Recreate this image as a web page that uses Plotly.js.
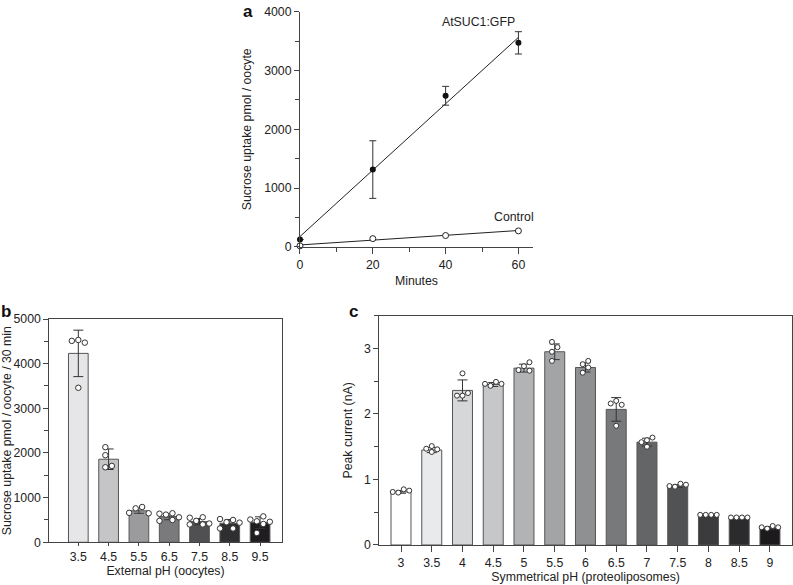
<!DOCTYPE html>
<html>
<head>
<meta charset="utf-8">
<script src="https://cdn.plot.ly/plotly-3.0.1.min.js"></script>
<style>
  body { margin: 0; background: #fff; }
  #fig { width: 793px; height: 585px; }
</style>
</head>
<body>
<div id="fig"></div>
<script>
// panel a: time course
var minutes = [0, 20, 40, 60];
var sucMean = [125, 1315, 2570, 3470];
var sucSd = [0, 490, 160, 190];
var ctrlMean = [17, 140, 193, 272];

// panel b: external pH, oocytes
var phB = ['3.5', '4.5', '5.5', '6.5', '7.5', '8.5', '9.5'];
var uptakeB = [4230, 1860, 705, 575, 463, 425, 440];
var sdB = [520, 230, 55, 70, 70, 85, 130];
var pointsB = [
    [4530, 4470, 4510, 3460],
    [2130, 1950, 1680, 1710],
    [760, 790, 660, 650],
    [620, 650, 640, 560, 500, 480],
    [480, 560, 550, 400, 420, 400],
    [450, 500, 520, 440, 310, 310],
    [470, 580, 510, 460, 210, 410]
];

// panel c: symmetrical pH, proteoliposomes
var phC = ['3', '3.5', '4', '4.5', '5', '5.5', '6', '6.5', '7', '7.5', '8', '8.5', '9'];
var currentC = [0.81, 1.45, 2.36, 2.45, 2.70, 2.95, 2.71, 2.07, 1.57, 0.90, 0.45, 0.41, 0.26];
var sdC = [0.02, 0.04, 0.16, 0.03, 0.06, 0.12, 0.07, 0.18, 0.06, 0.02, 0.005, 0.005, 0.02];
var pointsC = [
    [0.80, 0.85, 0.81, 0.83],
    [1.42, 1.46, 1.47, 1.51],
    [2.62, 2.28, 2.32, 2.28],
    [2.43, 2.49, 2.46, 2.46],
    [2.73, 2.79, 2.66, 2.67],
    [3.10, 3.02, 2.95, 2.81],
    [2.76, 2.81, 2.71, 2.63],
    [2.20, 2.14, 2.16, 1.82],
    [1.60, 1.64, 1.57, 1.50],
    [0.89, 0.935, 0.90, 0.92],
    [0.46, 0.46, 0.46, 0.46],
    [0.42, 0.42, 0.42, 0.42],
    [0.25, 0.29, 0.27, 0.27]
];

// bar fills (style)
var colorsB = ['#e6e6e8', '#c5c5c7', '#9b9b9d', '#7a7a7c', '#505052', '#2f2f31', '#1f1d1f'];
var colorsC = ['#ffffff', '#e9eaec', '#d6d7d9', '#c6c7c9', '#b2b3b5', '#a3a4a6', '#8f9092',
               '#78797b', '#646567', '#515254', '#3b3b3d', '#2b2b2d', '#1c1a1c'];

var W = 793, H = 585;
var FONT = 'Liberation Sans, Arial, sans-serif';
var FS = 12.3;
var INK = '#222';
var AXC = '#444';

var domA = {x: [0.3783, 0.6721], y: [0.578, 0.98]};
var domB = {x: [0.0622, 0.3552], y: [0.073, 0.4547]};
var domC = {x: [0.4783, 0.9987], y: [0.0684, 0.4603]};
var rangeBx = [-0.957, 6.713], rangeBy = [0, 5000];
var rangeCx = [-0.706, 12.716], rangeCy = [0, 3.5];

function linfit(xs, ys) {
    var n = xs.length, mx = 0, my = 0;
    for (var i = 0; i < n; i++) { mx += xs[i] / n; my += ys[i] / n; }
    var sxy = 0, sxx = 0;
    for (var i = 0; i < n; i++) {
        sxy += (xs[i] - mx) * (ys[i] - my);
        sxx += (xs[i] - mx) * (xs[i] - mx);
    }
    var slope = sxy / sxx;
    return {slope: slope, icpt: my - slope * mx};
}

// simple beeswarm so replicate dots don't overlap
function swarm(groups, dom, rx, ry, diam) {
    var pxX = (dom.x[1] - dom.x[0]) * W / (rx[1] - rx[0]);
    var pxY = (dom.y[1] - dom.y[0]) * H / (ry[1] - ry[0]);
    var X = [], Y = [];
    for (var g = 0; g < groups.length; g++) {
        var placed = [];
        for (var k = 0; k < groups[g].length; k++) {
            var py = groups[g][k] * pxY;
            for (var s = 0; s < 20; s++) {
                var off = (s === 0) ? 0 : (s % 2 ? 1 : -1) * Math.ceil(s / 2) * diam;
                var ok = true;
                for (var p = 0; p < placed.length; p++) {
                    var dx = off - placed[p][0], dy = py - placed[p][1];
                    if (Math.sqrt(dx * dx + dy * dy) < diam) { ok = false; break; }
                }
                if (ok) { placed.push([off, py]); break; }
            }
        }
        var lo = Math.min.apply(null, placed.map(function (q) { return q[0]; }));
        var hi = Math.max.apply(null, placed.map(function (q) { return q[0]; }));
        var shift = (lo + hi) / 2;
        for (var k = 0; k < placed.length; k++) {
            X.push(g + (placed[k][0] - shift) / pxX);
            Y.push(groups[g][k]);
        }
    }
    return {x: X, y: Y};
}

function idx(arr) { return arr.map(function (_, i) { return i; }); }

var fitS = linfit(minutes, sucMean);
var fitC = linfit(minutes, ctrlMean);
var xEnds = [minutes[0], minutes[minutes.length - 1]];

var swB = swarm(pointsB, domB, rangeBx, rangeBy, 6.5);
var swC = swarm(pointsC, domC, rangeCx, rangeCy, 5.5);

var traces = [
    {x: xEnds, y: xEnds.map(function (t) { return fitS.icpt + fitS.slope * t; }),
     mode: 'lines', line: {color: INK, width: 1}, xaxis: 'x', yaxis: 'y', hoverinfo: 'skip'},
    {x: xEnds, y: xEnds.map(function (t) { return fitC.icpt + fitC.slope * t; }),
     mode: 'lines', line: {color: INK, width: 1}, xaxis: 'x', yaxis: 'y', hoverinfo: 'skip'},
    {x: minutes, y: sucMean, mode: 'markers', cliponaxis: false,
     marker: {size: 6, color: '#111'},
     error_y: {type: 'data', array: sucSd, color: '#333', thickness: 1, width: 3.5},
     xaxis: 'x', yaxis: 'y'},
    {x: minutes, y: ctrlMean, mode: 'markers', cliponaxis: false,
     marker: {size: 6, color: '#fff', line: {color: INK, width: 1}},
     xaxis: 'x', yaxis: 'y'},

    {type: 'bar', x: idx(phB), y: uptakeB, width: 0.65,
     marker: {color: colorsB, line: {color: '#555', width: 1}},
     error_y: {type: 'data', array: sdB, color: '#333', thickness: 1, width: 5},
     xaxis: 'x2', yaxis: 'y2'},
    {x: swB.x, y: swB.y, mode: 'markers', cliponaxis: false,
     marker: {size: 5.5, color: '#fff', line: {color: '#333', width: 1}},
     xaxis: 'x2', yaxis: 'y2'},

    {type: 'bar', x: idx(phC), y: currentC, width: 0.65,
     marker: {color: colorsC, line: {color: '#555', width: 1}},
     error_y: {type: 'data', array: sdC, color: '#333', thickness: 1, width: 5},
     xaxis: 'x3', yaxis: 'y3'},
    {x: swC.x, y: swC.y, mode: 'markers', cliponaxis: false,
     marker: {size: 5, color: '#fff', line: {color: '#333', width: 1}},
     xaxis: 'x3', yaxis: 'y3'}
];

function ax(extra) {
    var base = {
        showline: true, linecolor: AXC, linewidth: 1,
        ticks: 'outside', ticklen: 5, tickcolor: AXC, tickwidth: 1,
        showgrid: false, zeroline: false, fixedrange: true,
        tickfont: {family: FONT, size: FS, color: INK}
    };
    for (var k in extra) base[k] = extra[k];
    return base;
}
function ttl(text, standoff) {
    return {text: text, standoff: standoff, font: {family: FONT, size: FS, color: INK}};
}
var minor = function (d) { return {dtick: d, ticks: 'outside', ticklen: 4, tickcolor: AXC, showgrid: false}; };

var layout = {
    width: W, height: H,
    margin: {l: 0, r: 0, t: 0, b: 0},
    paper_bgcolor: '#fff', plot_bgcolor: 'rgba(0,0,0,0)',
    showlegend: false,
    font: {family: FONT, color: INK},

    xaxis: ax({domain: domA.x, anchor: 'y', range: [0, 64], tickvals: [0, 20, 40, 60],
               ticklen: 6, minor: minor(10), title: ttl('Minutes', 5)}),
    yaxis: ax({domain: domA.y, anchor: 'x', range: [0, 4000], dtick: 1000,
               minor: minor(500), title: ttl('Sucrose uptake pmol / oocyte', 9)}),

    xaxis2: ax({domain: domB.x, anchor: 'y2', range: rangeBx, tickvals: idx(phB), ticktext: phB,
                mirror: true, ticklen: 3, title: ttl('External pH (oocytes)', 0)}),
    yaxis2: ax({domain: domB.y, anchor: 'x2', range: rangeBy, dtick: 1000, mirror: true,
                minor: minor(500), title: ttl('Sucrose uptake pmol / oocyte / 30 min', 3)}),

    xaxis3: ax({domain: domC.x, anchor: 'y3', range: rangeCx, tickvals: idx(phC), ticktext: phC,
                mirror: true, ticklen: 6, title: ttl('Symmetrical pH (proteoliposomes)', 1)}),
    yaxis3: ax({domain: domC.y, anchor: 'x3', range: rangeCy, tickvals: [0, 1, 2, 3], mirror: true,
                minor: minor(0.5), title: ttl('Peak current (nA)', 8)}),

    annotations: [
        {text: '<b>a</b>', xref: 'paper', yref: 'paper', x: 248 / W, y: 1,
         xanchor: 'center', yanchor: 'top', showarrow: false, font: {family: FONT, size: 17, color: '#111'}},
        {text: '<b>b</b>', xref: 'paper', yref: 'paper', x: 6 / W, y: 1 - 311 / H,
         xanchor: 'center', yanchor: 'middle', showarrow: false, font: {family: FONT, size: 17, color: '#111'}},
        {text: '<b>c</b>', xref: 'paper', yref: 'paper', x: 353 / W, y: 1 - 311 / H,
         xanchor: 'center', yanchor: 'middle', showarrow: false, font: {family: FONT, size: 17, color: '#111'}},
        {text: 'AtSUC1:GFP', xref: 'x', yref: 'y', x: 49, y: 3820, showarrow: false,
         font: {family: FONT, size: FS, color: INK}},
        {text: 'Control', xref: 'x', yref: 'y', x: 58.8, y: 505, showarrow: false,
         font: {family: FONT, size: FS, color: INK}}
    ]
};

Plotly.newPlot('fig', traces, layout, {displayModeBar: false, staticPlot: true});
</script>
</body>
</html>
